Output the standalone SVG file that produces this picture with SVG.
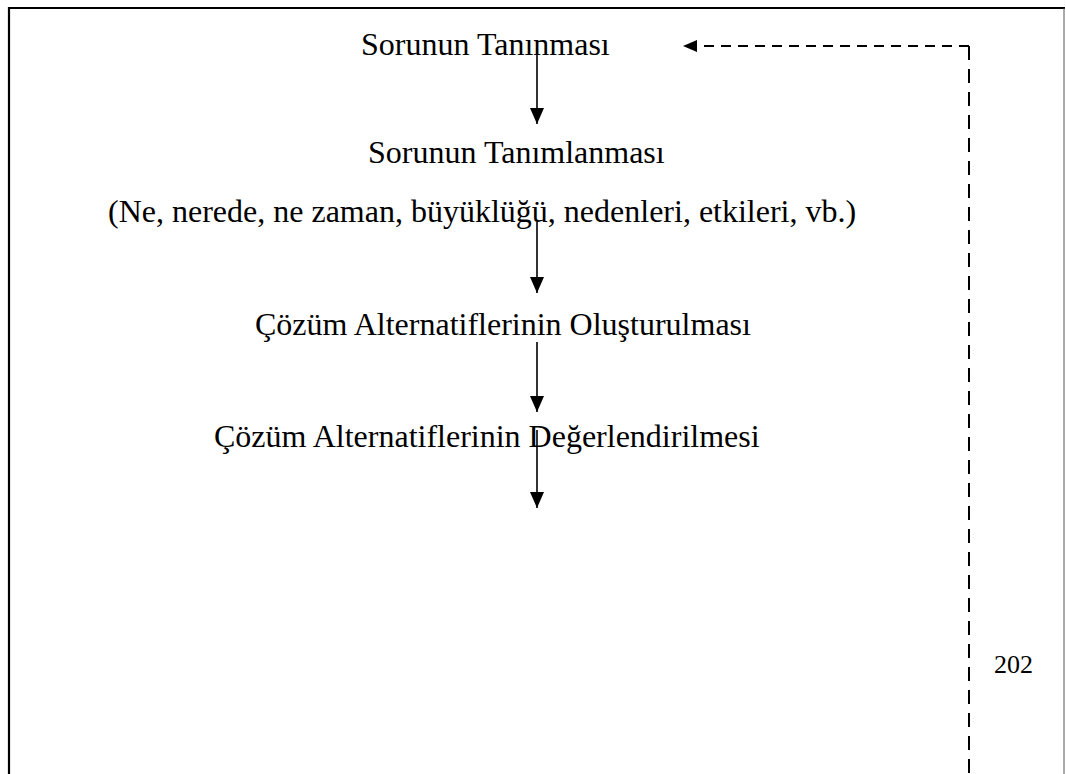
<svg xmlns="http://www.w3.org/2000/svg" width="1066" height="774" viewBox="0 0 1066 774">
  <defs>
    <style>
      .t { font-family: "Liberation Serif", "Times New Roman", serif; font-size: 32px; fill: #000; }
      .pg { font-family: "Liberation Serif", "Times New Roman", serif; font-size: 26px; fill: #000; }
      .flow { stroke: #000; stroke-width: 1.6; fill: none; }
      .back { stroke: #000; stroke-width: 2; fill: none; }
      .back-h { stroke-dasharray: 10 7; }
      .back-v { stroke-dasharray: 14 9; }
    </style>
    <marker id="head" viewBox="0 0 16 14" refX="16" refY="7" markerWidth="16" markerHeight="14" markerUnits="userSpaceOnUse" orient="auto">
      <path d="M0,0 L16,7 L0,14 Z" fill="#000"/>
    </marker>
    <marker id="headSmall" viewBox="0 0 14 12" refX="14" refY="6" markerWidth="14" markerHeight="12" markerUnits="userSpaceOnUse" orient="auto">
      <path d="M0,0 L14,6 L0,12 Z" fill="#000"/>
    </marker>
  </defs>

  <rect width="1066" height="774" fill="#fff"/>

  <!-- page frame (open at the bottom) -->
  <g id="frame">
    <line x1="8" y1="8" x2="1065" y2="8" stroke="#000" stroke-width="2.2"/>
    <line x1="9" y1="7" x2="9" y2="774" stroke="#000" stroke-width="2.2"/>
    <line x1="1064" y1="8" x2="1064" y2="774" stroke="#555" stroke-width="1"/>
  </g>

  <g id="connectors">
    <line class="flow" x1="537" y1="47" x2="537" y2="124" marker-end="url(#head)"/>
    <line class="flow" x1="537" y1="222" x2="537" y2="293" marker-end="url(#head)"/>
    <line class="flow" x1="537" y1="342" x2="537" y2="412" marker-end="url(#head)"/>
    <line class="flow" x1="537" y1="430" x2="537" y2="508" marker-end="url(#head)"/>
    <!-- feedback loop back to the first step -->
    <line class="back back-v" x1="969" y1="46" x2="969" y2="774"/>
    <line class="back back-h" x1="969" y1="46" x2="683" y2="46" marker-end="url(#headSmall)"/>
  </g>

  <g id="n1"><text class="t" x="361" y="55">Sorunun Tanınması</text></g>
  <g id="n2">
    <text class="t" x="368" y="163">Sorunun Tanımlanması</text>
    <text class="t" x="108" y="222">(Ne, nerede, ne zaman, büyüklüğü, nedenleri, etkileri, vb.)</text>
  </g>
  <g id="n3"><text class="t" x="255" y="335">Çözüm Alternatiflerinin Oluşturulması</text></g>
  <g id="n4"><text class="t" x="214" y="447">Çözüm Alternatiflerinin Değerlendirilmesi</text></g>
  <g id="page"><text class="pg" x="994" y="673">202</text></g>
</svg>
